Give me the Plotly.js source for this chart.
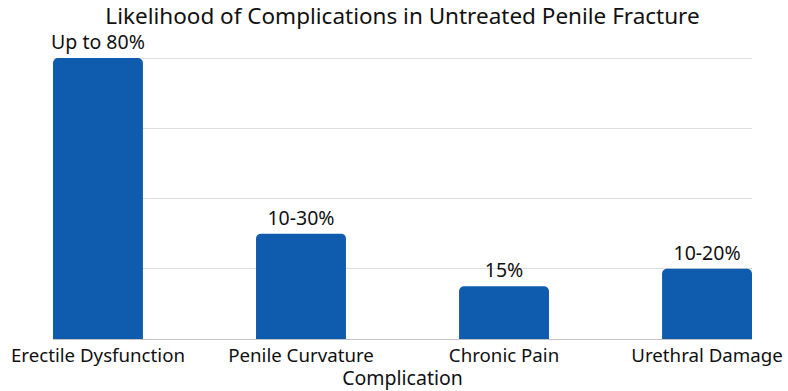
<!DOCTYPE html>
<html>
<head>
<meta charset="utf-8">
<script src="https://cdn.plot.ly/plotly-3.0.1.min.js"></script>
<style>html,body{margin:0;padding:0;background:#fff;}#chart{width:788px;height:391px;}</style>
</head>
<body>
<div id="chart"></div>
<script>
const categories = ["Erectile Dysfunction", "Penile Curvature", "Chronic Pain", "Urethral Damage"];
const values = [80, 30, 15, 20];
const labels = ["Up to 80%", "10-30%", "15%", "10-20%"];

const FONT = "Noto Sans, Open Sans, sans-serif";

Plotly.newPlot("chart", [{
  type: "bar",
  x: categories,
  y: values,
  text: labels,
  texttemplate: "%{text}",
  textposition: "outside",
  constraintext: "none",
  cliponaxis: false,
  textfont: {family: FONT, size: 19.5, color: "#111"},
  width: 0.443,
  marker: {color: "#0f5bad", cornerradius: 5},
  hoverinfo: "skip"
}], {
  width: 788, height: 391,
  margin: {l: 53, r: 36, t: 57, b: 52},
  paper_bgcolor: "#fff", plot_bgcolor: "#fff",
  title: {text: "Likelihood of Complications in Untreated Penile Fracture",
          font: {family: FONT, size: 22.5, color: "#111"},
          x: 0.5, xref: "paper", y: 0.958, yref: "container", yanchor: "middle"},
  xaxis: {
    range: [-0.2215, 3.2215],
    tickfont: {family: FONT, size: 18.7, color: "#111"},
    showline: true, linecolor: "#c4c4c4", linewidth: 1,
    ticks: "", showgrid: false,
    title: {text: "Complication", font: {family: FONT, size: 19.5, color: "#111"}, standoff: 0}
  },
  yaxis: {
    range: [0, 80.3],
    dtick: 20,
    showticklabels: false,
    gridcolor: "#dddddd", gridwidth: 1,
    zeroline: false, showline: false, ticks: ""
  },
  showlegend: false
}, {displayModeBar: false, staticPlot: true});
</script>
</body>
</html>
